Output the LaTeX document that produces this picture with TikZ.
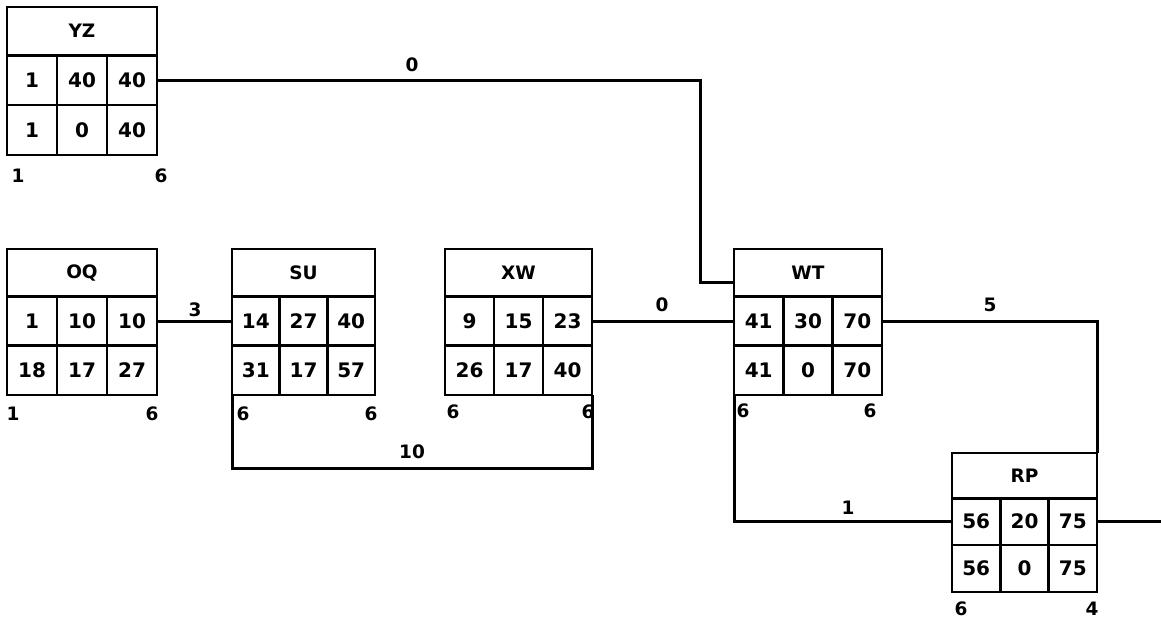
\documentclass[tikz,border=0pt]{standalone}
\usepackage{fontspec}
\setmainfont{DejaVu Sans}
\usetikzlibrary{calc,fit}
\tikzset{
  cellbox/.style={draw, line width=2.8pt, inner sep=0pt, outer sep=0pt, font=\fontsize{20}{20}\selectfont\bfseries},
  headbox/.style={cellbox, font=\fontsize{18.5}{18.5}\selectfont\bfseries},
  conn/.style={line width=3pt, line join=miter},
  lbl/.style={font=\fontsize{18.5}{18.5}\selectfont\bfseries, inner sep=0pt},
}
% #1 name #2 x #3 y #4 title #5 row1 #6 row2 #7 lower-left #8 lower-right
\newcommand\pbox[8]{%
  \pgfmathsetmacro\pcw{\pbw/3}%
  \pgfmathsetmacro\phh{\pbh*0.325}%
  \pgfmathsetmacro\prh{\pbh*0.3375}%
  \node[headbox, minimum width=\pbw pt, minimum height=\phh pt, anchor=north west] (#1-h) at (#2,#3) {#4};
  \foreach \v [count=\i] in {#5} {
    \node[cellbox, minimum width=\pcw pt, minimum height=\prh pt, anchor=north west] (#1-a\i) at ($(#1-h.south west)+(\i*\pcw-\pcw,0)$) {\v};
  }
  \foreach \v [count=\i] in {#6} {
    \node[cellbox, minimum width=\pcw pt, minimum height=\prh pt, anchor=north west] (#1-b\i) at ($(#1-a1.south west)+(\i*\pcw-\pcw,0)$) {\v};
  }
  \node[inner sep=0pt, outer sep=0pt, fit=(#1-h)(#1-b3)] (#1) {};
  \node[lbl] (#1-ll) at ($(#1.south west)+(\plx,\ply)$) {#7};
  \node[lbl] (#1-lr) at ($(#1.south east)+(\prx,\ply)$) {#8};
}
\begin{document}
\begin{tikzpicture}[x=1pt,y=-1pt]
\useasboundingbox (0,0) rectangle (1161,619);

\def\pbw{150}\def\pbh{148}\def\plx{11}\def\prx{4}\def\ply{21}
\pbox{YZ}{7}{7}{YZ}{1,40,40}{1,0,40}{1}{6}
\def\pbw{150}\def\pbh{146}\def\plx{6}\def\prx{-5}\def\ply{19}
\pbox{OQ}{7}{249}{OQ}{1,10,10}{18,17,27}{1}{6}
\def\pbw{143}\def\pbh{146}\def\plx{11}\def\prx{-4}\def\ply{19}
\pbox{SU}{232}{249}{SU}{14,27,40}{31,17,57}{6}{6}
\def\pbw{147}\def\pbh{146}\def\plx{8}\def\prx{-4}\def\ply{17}
\pbox{XW}{445}{249}{XW}{9,15,23}{26,17,40}{6}{6}
\def\pbw{148}\def\pbh{146}\def\plx{9}\def\prx{-12}\def\ply{16}
\pbox{WT}{734}{249}{WT}{41,30,70}{41,0,70}{6}{6}
\def\pbw{145}\def\pbh{139}\def\plx{9}\def\prx{-5}\def\ply{17}
\pbox{RP}{952}{453}{RP}{56,20,75}{56,0,75}{6}{4}

% YZ -> WT
\coordinate (bendx) at (700,0);
\coordinate (wtin) at ($(WT-h.south west)+(0,-14)$);
\draw[conn] (YZ-a3.east) -| (bendx |- wtin) -- (wtin);
\node[lbl] (l1) at (412,65) {0};

% OQ -> SU
\draw[conn] (OQ-a3.east) -- (SU-a1.west);
\node[lbl] (l2) at (195,310) {3};

% SU -> XW (below)
\coordinate (low1) at (0,468);
\draw[conn] (SU.south west) |- (low1 -| XW.south east) -- (XW.south east);
\node[lbl] (l3) at (412,452) {10};

% XW -> WT
\draw[conn] (XW-a3.east) -- (WT-a1.west);
\node[lbl] (l4) at (662,305) {0};

% WT -> RP (top)
\draw[conn] (WT-a3.east) -| (RP.north east);
\node[lbl] (l5) at (990,305) {5};

% WT -> RP (below)
\draw[conn] (WT.south west) |- (RP-a1.west);
\node[lbl] (l6) at (848,508) {1};

% RP -> out
\coordinate (rpend) at (1161,0);
\draw[conn] (RP-a3.east) -- (RP-a3.east -| rpend);
\end{tikzpicture}
\end{document}
